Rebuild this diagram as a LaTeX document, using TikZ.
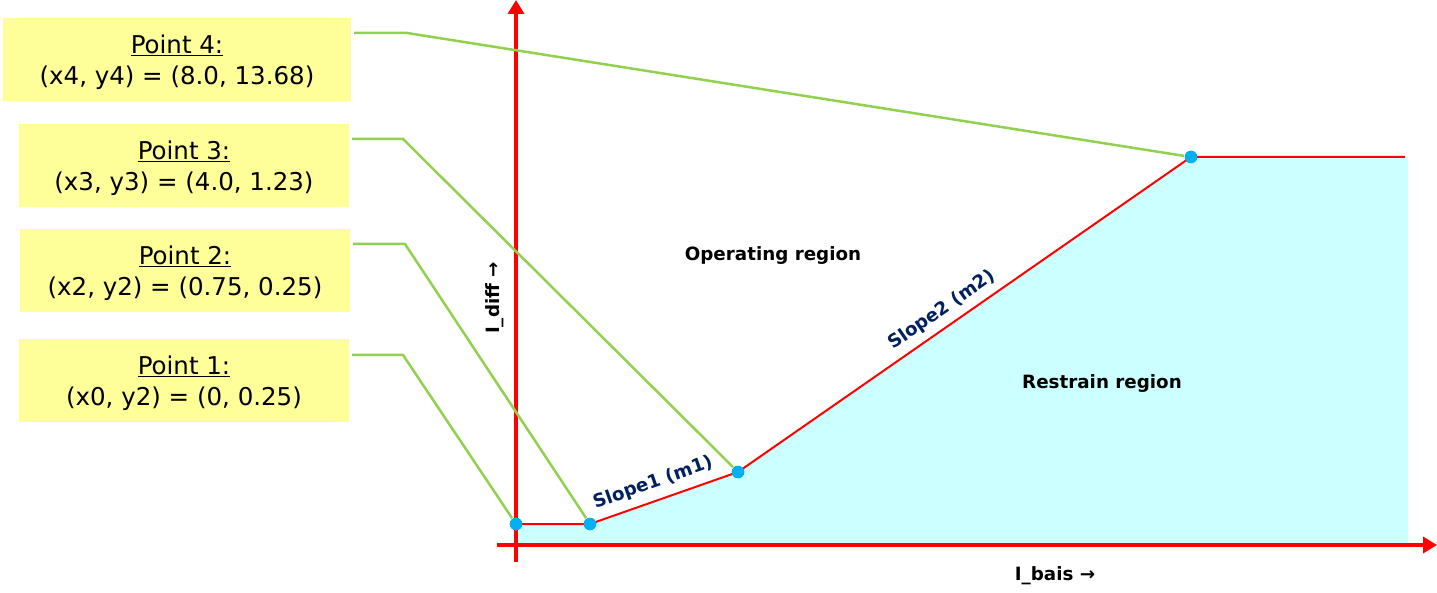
\documentclass[tikz,border=0pt]{standalone}
\usepackage{fontspec}
\setmainfont{DejaVu Sans}
\usetikzlibrary{arrows.meta}
\definecolor{axisred}{RGB}{255,0,0}
\definecolor{restrain}{RGB}{204,255,255}
\definecolor{note}{RGB}{255,255,153}
\definecolor{leader}{RGB}{146,208,80}
\definecolor{knot}{RGB}{0,176,240}
\definecolor{slopetxt}{RGB}{0,32,96}
\newcommand{\pointhead}[1]{\rule{0pt}{25pt}\underline{#1}}
\begin{document}
\begin{tikzpicture}[x=1pt,y=-1pt,
  notebox/.style={fill=note, minimum height=83pt, align=center, inner sep=0pt,
    font=\fontsize{24.5}{31}\selectfont},
  axisline/.style={draw=axisred, line width=4pt, -{Triangle[width=16pt,length=14pt]}},
  curve/.style={draw=axisred, line width=2pt},
  leaderline/.style={draw=leader, line width=2.5pt, shorten <=3pt, shorten >=7pt},
  knotdot/.style={circle, fill=knot, inner sep=0pt, minimum size=12.5pt},
  labelfont/.style={font=\bfseries\fontsize{18.3}{21}\selectfont},
  region/.style={labelfont},
  slopelabel/.style={labelfont, text=slopetxt},
  axislabel/.style={labelfont}]
\useasboundingbox (0,0) rectangle (1437,593);

% restrain area under the characteristic
\fill[restrain] (516,524) -- (590,524) -- (738,472) -- (1191,157) -- (1408,157)
  -- (1408,545) -- (516,545) -- cycle;

% breakpoints of the characteristic
\coordinate (k0) at (516,524);
\coordinate (k1) at (590,524);
\coordinate (k2) at (738,472);
\coordinate (k3) at (1191,157);
\coordinate (kend) at (1405,157);

% characteristic
\draw[curve] (k0) -- (k1) -- (k2) -- (k3) -- (kend);

% axes
\coordinate (xs) at (497,545);
\coordinate (xe) at (1437,545);
\coordinate (ys) at (516,562);
\coordinate (ye) at (516,0);
\draw[axisline] (xs) -- (xe);
\draw[axisline] (ys) -- (ye);

% point descriptions
\node[notebox, minimum width=348pt] (p4) at (177,59.5)
  {\pointhead{Point 4:}\\(x4, y4) = (8.0, 13.68)};
\node[notebox, minimum width=330pt] (p3) at (184,165.5)
  {\pointhead{Point 3:}\\(x3, y3) = (4.0, 1.23)};
\node[notebox, minimum width=330pt] (p2) at (185,270.5)
  {\pointhead{Point 2:}\\(x2, y2) = (0.75, 0.25)};
\node[notebox, minimum width=330pt] (p1) at (184,380.5)
  {\pointhead{Point 1:}\\(x0, y2) = (0, 0.25)};

% knot markers
\node[knotdot] (d0) at (k0) {};
\node[knotdot] (d1) at (k1) {};
\node[knotdot] (d2) at (k2) {};
\node[knotdot] (d3) at (k3) {};

% leader lines from descriptions to knots
\coordinate (b4) at (407,33);
\coordinate (b3) at (403,139);
\coordinate (b2) at (405,244);
\coordinate (b1) at (403,355);
\draw[leaderline] (p4.east |- b4) -- (b4) -- (d3.center);
\draw[leaderline] (p3.east |- b3) -- (b3) -- (d2.center);
\draw[leaderline] (p2.east |- b2) -- (b2) -- (d1.center);
\draw[leaderline] (p1.east |- b1) -- (b1) -- (d0.center);

% redraw markers above the leaders
\node[knotdot] at (k0) {};
\node[knotdot] at (k1) {};
\node[knotdot] at (k2) {};
\node[knotdot] at (k3) {};

% labels
\node[region] (op) at (773,256) {Operating region};
\node[region] (rs) at (1102,384) {Restrain region};
\node[slopelabel, rotate=19.4] (s1) at (653,483) {Slope1 (m1)};
\node[slopelabel, rotate=34.8] (s2) at (942,310) {Slope2 (m2)};
\node[axislabel, rotate=90] (yl) at (495,298) {I\_diff →};
\node[axislabel] (xl) at (1055,576) {I\_bais →};
\end{tikzpicture}
\end{document}
